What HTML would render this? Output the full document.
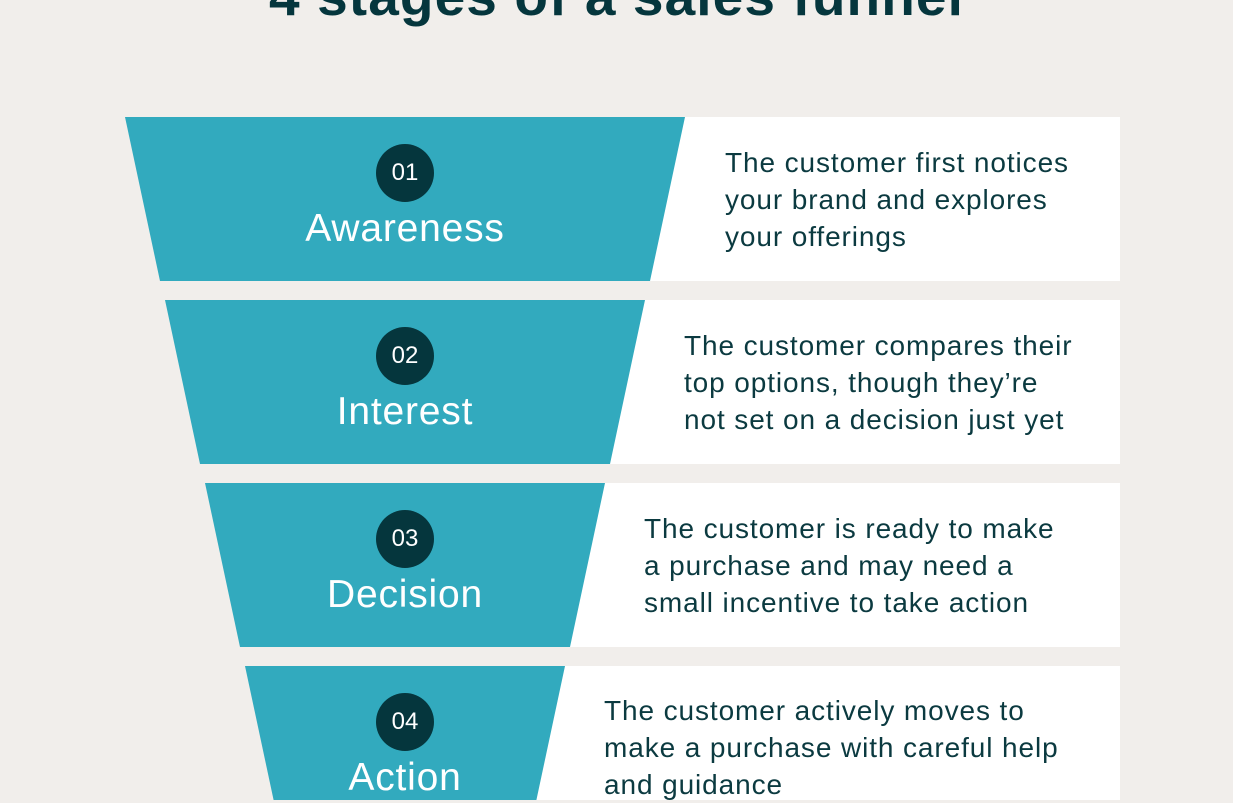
<!DOCTYPE html>
<html><head><style>
body{margin:0;width:1233px;height:800px;overflow:hidden;background:#f1eeeb;position:relative;font-family:"Liberation Sans",sans-serif}
.t{position:absolute;left:0;width:1233px;text-align:center;top:-36px;font-size:55px;font-weight:bold;color:#05363d;letter-spacing:1.1px;white-space:nowrap}
.d{position:absolute;font-size:28px;line-height:37px;color:#0b3a40;white-space:nowrap;letter-spacing:0.9px}
.c{position:absolute;width:58px;height:58px;border-radius:50%;background:#05363d;color:#fff;font-size:24px;line-height:58px;text-align:center;left:376px}
.l{position:absolute;width:400px;left:205px;text-align:center;color:#fff;font-size:39px;letter-spacing:0.8px}
</style></head><body>
<div class="t">4 stages of a sales funnel</div>
<svg width="1233" height="800" style="position:absolute;left:0;top:0">
<g fill="#fff">
<rect x="640" y="117" width="480" height="164"/>
<rect x="600" y="300" width="520" height="164"/>
<rect x="560" y="483" width="560" height="164"/>
<rect x="520" y="666" width="600" height="164"/>
</g>
<g fill="#32aabe">
<polygon points="125,117 685,117 650,281 160,281"/>
<polygon points="165,300 645,300 610,464 200,464"/>
<polygon points="205,483 605,483 570,647 240,647"/>
<polygon points="245,666 565,666 530,830 280,830"/>
</g>
</svg>
<div class="c" style="top:144px">01</div><div class="l" style="top:207px">Awareness</div>
<div class="c" style="top:327px">02</div><div class="l" style="top:390px">Interest</div>
<div class="c" style="top:510px">03</div><div class="l" style="top:573px">Decision</div>
<div class="c" style="top:693px">04</div><div class="l" style="top:756px">Action</div>
<div class="d" style="left:725px;top:144px">The customer first notices<br>your brand and explores<br>your offerings</div>
<div class="d" style="left:684px;top:327px">The customer compares their<br>top options, though they’re<br>not set on a decision just yet</div>
<div class="d" style="left:644px;top:510px">The customer is ready to make<br>a purchase and may need a<br>small incentive to take action</div>
<div class="d" style="left:604px;top:692px">The customer actively moves to<br>make a purchase with careful help<br>and guidance</div>
</body></html>
